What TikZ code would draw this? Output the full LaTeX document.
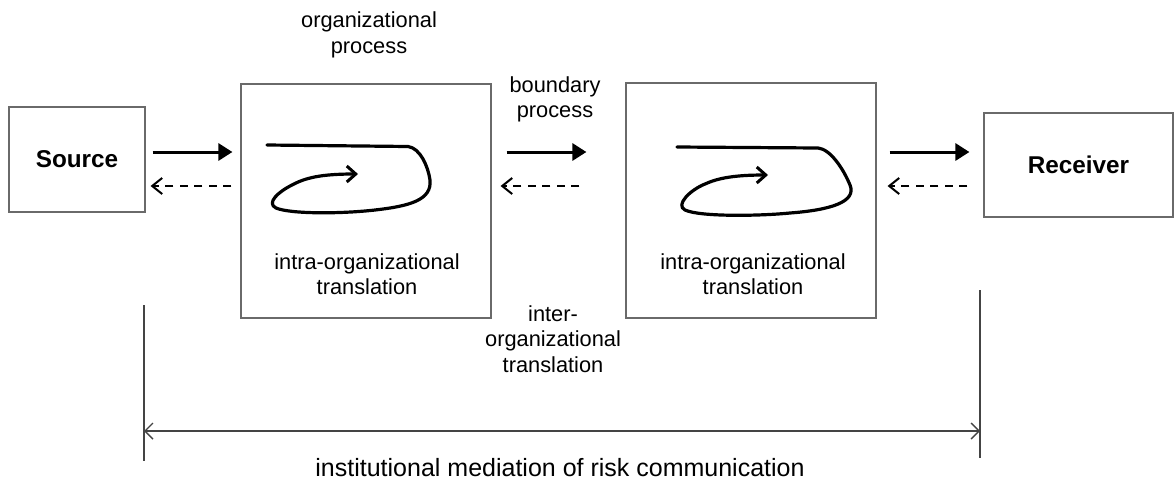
\documentclass[tikz,border=0pt]{standalone}
\usepackage{fontspec}
\setmainfont{Liberation Sans}
\usetikzlibrary{arrows.meta}
\newcommand\lblfont{\fontsize{21.8}{25.5}\selectfont}
\newcommand\biglbl{\fontsize{25}{29}\selectfont}
\newcommand\boldlbl{\fontsize{24.3}{28}\selectfont\bfseries}
\definecolor{boxgray}{HTML}{6A6A6A}
\definecolor{measgray}{HTML}{444444}
\tikzset{
  box/.style={draw=boxgray, line width=1.2pt, rectangle, inner sep=0pt},
  solidarr/.style={line width=3pt, -{Triangle[length=14pt,width=17pt]}},
  dasharr/.style={line width=2pt, dash pattern=on 8pt off 6.5pt, -{Straight Barb[length=10pt,width=16pt,line width=2pt]}},
  loopline/.style={line width=3.2pt, line cap=round, line join=round, -{Straight Barb[length=9pt,width=16pt,line width=3pt]}},
  lbl/.style={font=\lblfont, align=center, inner sep=0pt, anchor=north},
  measure/.style={draw=measgray, line width=1.4pt},
}
\begin{document}
\begin{tikzpicture}[x=1pt,y=-1pt]
\useasboundingbox (0,0) rectangle (1174,488);
% main boxes
\node[box, minimum width=136pt, minimum height=105pt, font=\boldlbl] (src) at (77,159.5) {Source};
\node[box, minimum width=250pt, minimum height=234pt] (org1) at (366,201) {};
\node[box, minimum width=250pt, minimum height=235pt] (org2) at (751,200.5) {};
\node[box, minimum width=189pt, minimum height=104pt, font=\boldlbl] (rcv) at (1078.5,165) {Receiver};
% levels of the arrows
\coordinate (up) at (0,152);
\coordinate (dn) at (0,186);
% forward arrows
\draw[solidarr, shorten <=7pt, shorten >=8pt] (src.east |- up) -- (org1.west |- up);
\draw[solidarr, shorten <=15pt, shorten >=39pt] (org1.east |- up) -- (org2.west |- up);
\draw[solidarr, shorten <=13pt, shorten >=14pt] (org2.east |- up) -- (rcv.west |- up);
% backward dashed arrows
\draw[dasharr, shorten <=9pt, shorten >=5pt] (org1.west |- dn) -- (src.east |- dn);
\draw[dasharr, shorten <=46pt, shorten >=9pt] (org2.west |- dn) -- (org1.east |- dn);
\draw[dasharr, shorten <=16pt, shorten >=11pt] (rcv.west |- dn) -- (org2.east |- dn);
% loops
\draw[loopline] (267,145) -- (408,146.5) .. controls (420,148) and (428,166) .. (430,180)
  .. controls (432,200) and (410,206) .. (375,210)
  .. controls (340,214) and (290,214) .. (276,208)
  .. controls (266,203) and (278,192) .. (292,185)
  .. controls (305,178) and (320,174) .. (358,174);
\draw[loopline] (677,147) -- (818,148) .. controls (830,149) and (843,168) .. (850,185)
  .. controls (857,202) and (830,210) .. (790,213)
  .. controls (760,216) and (700,217) .. (685,210)
  .. controls (675,205) and (690,190) .. (705,184)
  .. controls (718,178) and (735,175) .. (768,175);
% labels
\node[lbl] (orgproc) at (369,12) {organizational\\process};
\node[lbl] (bproc) at (555,76) {boundary\\process};
\node[lbl] (intra1) at (367,253) {intra-organizational\\translation};
\node[lbl] (intra2) at (753,253) {intra-organizational\\translation};
\node[lbl] (inter) at (553,305) {inter-\\organizational\\translation};
% measurement
\coordinate (lt) at (144,305);
\coordinate (lb) at (144,461);
\coordinate (rt) at (980,290);
\coordinate (rb) at (980,458);
\coordinate (ml) at (144,431);
\coordinate (mr) at (980,431);
\draw[measure] (lt) -- (lb);
\draw[measure] (rt) -- (rb);
\draw[measure, {Straight Barb[length=8pt,width=16pt,line width=1.4pt]}-{Straight Barb[length=8pt,width=16pt,line width=1.4pt]}] (ml) -- (mr);
\node[font=\biglbl, inner sep=0pt, anchor=base] (inst) at (560,476) {institutional mediation of risk communication};
\end{tikzpicture}
\end{document}
